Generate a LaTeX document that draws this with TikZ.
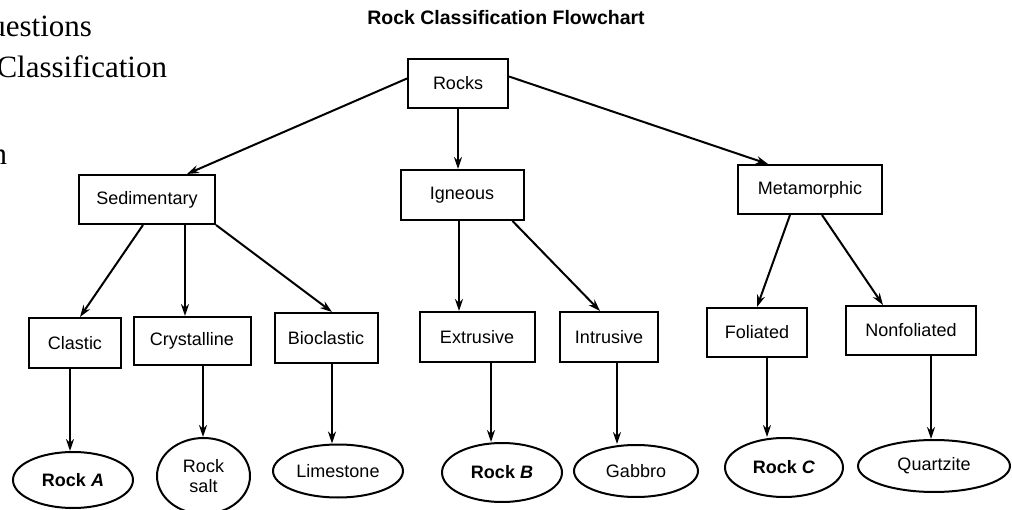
\documentclass[tikz,border=0pt]{standalone}
\usepackage{fontspec}
\setmainfont{Liberation Sans}
\newfontfamily\pageserif{Liberation Serif}
\usepackage{tikz}
\usetikzlibrary{arrows.meta}
\usetikzlibrary{shapes.geometric}

\tikzset{
  box/.style={draw, rectangle, inner sep=0pt, font=\fontsize{18}{20}\selectfont},
  leaf/.style={draw, ellipse, inner sep=0pt, align=center, font=\fontsize{18}{20}\selectfont},
  pagetext/.style={anchor=base east, inner sep=0pt, font=\pageserif\fontsize{31}{34}\selectfont},
}

\begin{document}
\begin{tikzpicture}[->, >={Stealth[length=12pt,width=8pt]}, line width=2pt, x=1pt, y=-1pt]

    \useasboundingbox (0,0) rectangle (1012,510);

    % Page text
    \node[pagetext] (q1) at (93,37)  {uestions}; %
    \node[pagetext] (q2) at (168,78) {Classification}; %
    \node[pagetext] (q3) at (8,165)  {n}; %
    \node[anchor=base, font=\bfseries\fontsize{19.5}{22}\selectfont] (title) at (506,25) {Rock Classification Flowchart};

    % Nodes
    \node[box, minimum width=100pt, minimum height=49pt] (rocks) at (458,83.5)  {Rocks}; %
    \node[box, minimum width=136pt, minimum height=49pt] (sed)   at (147,199.5) {Sedimentary}; %
    \node[box, minimum width=123pt, minimum height=50pt] (ign)   at (462,195)   {Igneous}; %
    \node[box, minimum width=144pt, minimum height=49pt] (met)   at (810,189.5) {Metamorphic}; %

    \draw ([yshift=5pt]rocks.west) -- ([xshift=40pt]sed.north);
    \draw (rocks.south) -- (rocks.south |- ign.north);
    \draw ([yshift=7pt]rocks.east) -- ([xshift=-42pt]met.north);

    % More nodes
    \node[box, minimum width=92pt,  minimum height=50pt] (cla)  at (75,343)    {Clastic}; %
    \node[box, minimum width=117pt, minimum height=48pt] (cry)  at (192,341)   {Crystalline}; %
    \node[box, minimum width=103pt, minimum height=50pt] (bio)  at (326,338)   {Bioclastic}; %
    \node[box, minimum width=115pt, minimum height=50pt] (ext)  at (477,337)   {Extrusive}; %
    \node[box, minimum width=98pt,  minimum height=50pt] (int)  at (609,337)   {Intrusive}; %
    \node[box, minimum width=100pt, minimum height=49pt] (fol)  at (757,332.5) {Foliated}; %
    \node[box, minimum width=130pt, minimum height=49pt] (nonf) at (911,330.5) {Nonfoliated}; %

    \draw ([xshift=-4pt]sed.south) -- ([xshift=5pt]cla.north);
    \draw ([xshift=38pt]sed.south) -- ([xshift=38pt]sed.south |- cry.north);
    \draw (sed.south east) -- ([xshift=6pt]bio.north);
    \draw ([xshift=-3pt]ign.south) -- ([xshift=-3pt]ign.south |- ext.north);
    \draw ([xshift=-12pt]ign.south east) -- ([xshift=-9pt]int.north);
    \draw ([xshift=-20pt]met.south) -- (fol.north);
    \draw ([xshift=12pt]met.south) -- ([xshift=-28pt]nonf.north);

    % Rocks at the bottom
    \node[leaf, minimum width=120pt, minimum height=56pt] (rocka)  at (73,480)    {\bfseries Rock \textit{A}}; %
    \node[leaf, minimum width=93pt,  minimum height=76pt] (salt)   at (203.5,476) {Rock\\salt}; %
    \node[leaf, minimum width=130pt, minimum height=53pt] (lime)   at (338,471)   {Limestone}; %
    \node[leaf, minimum width=120pt, minimum height=59pt] (rockb)  at (502,472.5) {\bfseries Rock \textit{B}}; %
    \node[leaf, minimum width=124pt, minimum height=52pt] (gab)    at (636,471)   {Gabbro}; %
    \node[leaf, minimum width=118pt, minimum height=59pt] (rockc)  at (784,467.5) {\bfseries Rock \textit{C}}; %
    \node[leaf, minimum width=152pt, minimum height=52pt] (quartz) at (934,466)   {Quartzite}; %

    \draw ([xshift=-5pt]cla.south) -- ([xshift=-5pt]cla.south |- rocka.north);
    \draw ([xshift=11pt]cry.south) -- ([xshift=11pt]cry.south |- salt.north);
    \draw ([xshift=6pt]bio.south) -- ([xshift=6pt]bio.south |- lime.north);
    \draw ([xshift=14pt]ext.south) -- ([xshift=14pt]ext.south |- rockb.north);
    \draw ([xshift=8pt]int.south) -- ([xshift=8pt]int.south |- gab.north);
    \draw ([xshift=10pt]fol.south) -- ([xshift=10pt]fol.south |- rockc.north);
    \draw ([xshift=20pt]nonf.south) -- ([xshift=20pt]nonf.south |- quartz.north);

\end{tikzpicture}
\end{document}
